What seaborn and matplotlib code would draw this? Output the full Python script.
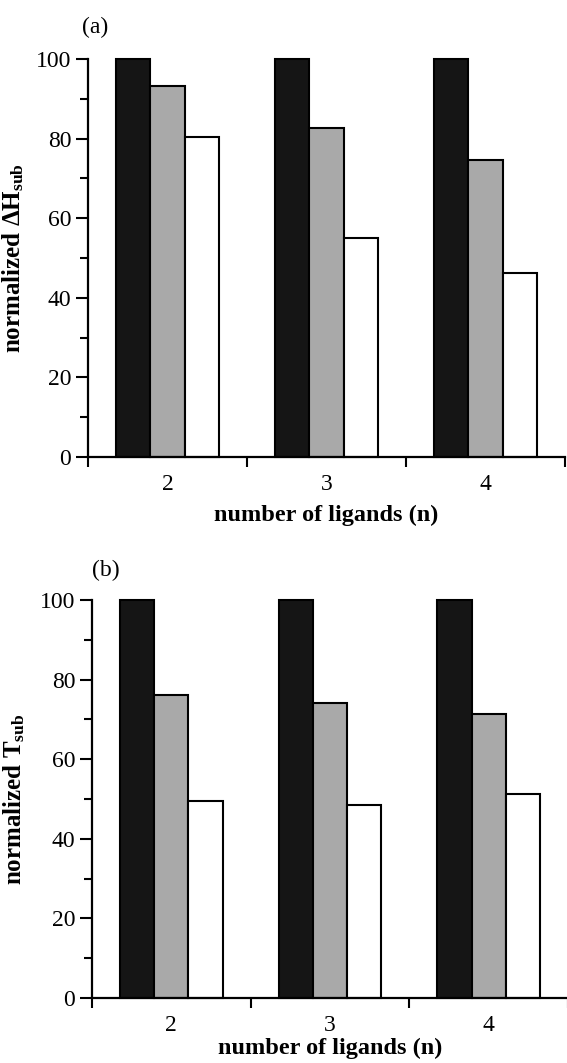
import numpy as np
import pandas as pd
import matplotlib
matplotlib.use("Agg")
import matplotlib.pyplot as plt
import seaborn as sns
from matplotlib.ticker import MultipleLocator, FixedLocator

# ---- data ----
ligands = ["2", "3", "4"]
series = ["s1", "s2", "s3"]
dh_black = [100, 100, 100]
dh_grey = [93.2, 82.6, 74.7]
dh_white = [80.4, 54.9, 46.3]
t_black = [100, 100, 100]
t_grey = [76.1, 74.2, 71.4]
t_white = [49.5, 48.6, 51.3]
ytick_vals = [0, 20, 40, 60, 80, 100]

sns.set_theme(style="ticks")
plt.rcParams["font.family"] = ["Liberation Serif", "DejaVu Serif"]
plt.rcParams["mathtext.fontset"] = "custom"
plt.rcParams["mathtext.rm"] = "Liberation Serif"
plt.rcParams["mathtext.bf"] = "Liberation Serif:bold"
plt.rcParams["mathtext.it"] = "Liberation Serif:italic"
plt.rcParams["text.color"] = "black"
plt.rcParams["axes.labelcolor"] = "black"
plt.rcParams["xtick.color"] = "black"
plt.rcParams["ytick.color"] = "black"

palette = {"s1": "#151515", "s2": "#a9a9a9", "s3": "#ffffff"}


def make_df(a, b, c):
    rows = []
    for i, lg in enumerate(ligands):
        rows.append((lg, "s1", a[i]))
        rows.append((lg, "s2", b[i]))
        rows.append((lg, "s3", c[i]))
    return pd.DataFrame(rows, columns=["n", "series", "value"])


fig = plt.figure(figsize=(5.67, 10.63), dpi=100)
W, H = 567, 1063


def px_axes(left, right, top, bottom):
    return fig.add_axes([left / W, 1 - bottom / H, (right - left) / W, (bottom - top) / H])


ax1 = px_axes(88, 565, 59, 457)
ax2 = px_axes(92, 568, 600, 998)


def draw(ax, df, ylabel, label_x, xpad):
    sns.barplot(data=df, x="n", y="value", hue="series", order=ligands,
                hue_order=series, palette=palette, width=0.645,
                edgecolor="black", linewidth=1.5, saturation=1,
                legend=False, ax=ax, errorbar=None)
    for p in ax.patches:
        p.set_clip_on(False)
    ax.set_xlim(-0.5, 2.5)
    ax.set_ylim(0, 100)
    ax.set_yticks(ytick_vals)
    ax.yaxis.set_minor_locator(MultipleLocator(10))
    ax.xaxis.set_minor_locator(FixedLocator([-0.5, 0.5, 1.5, 2.5]))
    sns.despine(ax=ax)
    for s in ["left", "bottom"]:
        ax.spines[s].set_linewidth(1.6)
        ax.spines[s].set_color("black")
    ax.tick_params(axis="y", which="major", length=9, width=1.5, direction="out",
                   labelsize=17, pad=3)
    ax.tick_params(axis="y", which="minor", length=6, width=1.5, direction="out")
    ax.tick_params(axis="x", which="major", length=0, labelsize=17, pad=12)
    ax.tick_params(axis="x", which="minor", length=7, width=1.5, direction="out")
    ax.set_xlabel("number of ligands (n)", fontsize=17.5, fontweight="bold", labelpad=xpad)
    ax.set_ylabel(ylabel, fontsize=18, fontweight="bold")
    ax.yaxis.set_label_coords(label_x, 0.5)
    ax.set_facecolor("white")


draw(ax1, make_df(dh_black, dh_grey, dh_white),
     "normalized \u0394H$_{\\mathbf{sub}}$", -0.13, 7)
draw(ax2, make_df(t_black, t_grey, t_white),
     "normalized T$_{\\mathbf{sub}}$", -0.137, 1.5)

fig.text(95 / W, 1 - 27 / H, "(a)", ha="center", va="center", fontsize=17)
fig.text(106 / W, 1 - 570 / H, "(b)", ha="center", va="center", fontsize=17)

fig.savefig("out.png", dpi=100, facecolor="white")
